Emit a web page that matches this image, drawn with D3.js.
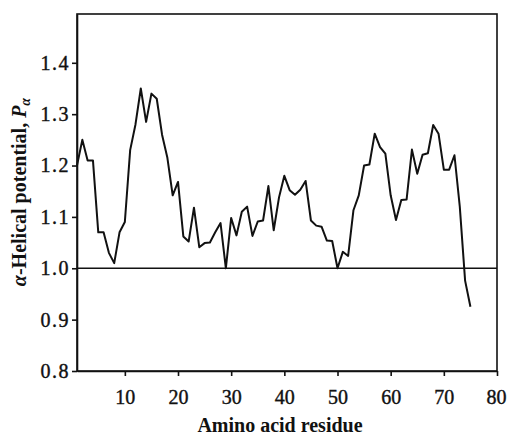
<!DOCTYPE html>
<html lang="en">
<head>
	<meta charset="UTF-8">
	<title>Helical potential</title>
	<script src="https://cdn.jsdelivr.net/npm/d3@7"></script>
	<style>
		body {
			margin: 0;
			background-color: #ffffff;
		}
		.axis path, .axis line {
			stroke: #111;
			stroke-width: 1.6px;
		}
		.axis text {
			font-family: 'Liberation Serif', 'Times New Roman', serif;
			font-size: 20px;
			fill: #111;
			stroke: #111;
			stroke-width: 0.4px;
		}
		.title {
			font-family: 'Liberation Serif', 'Times New Roman', serif;
			font-size: 20px;
			font-weight: bold;
			fill: #111;
		}
	</style>
</head>
<body>
<script>

	// alpha-helical potential per residue
	var residues = d3.range(1, 76);
	var potential = [
		1.20, 1.25, 1.21, 1.21, 1.07, 1.07, 1.03, 1.01, 1.07, 1.09,
		1.23, 1.28, 1.35, 1.285, 1.34, 1.33, 1.26, 1.215, 1.142, 1.168,
		1.062, 1.052, 1.118, 1.041, 1.049, 1.05, 1.07, 1.088, 1.00, 1.098,
		1.064, 1.11, 1.12, 1.063, 1.091, 1.093, 1.16, 1.074, 1.138, 1.18,
		1.152, 1.143, 1.153, 1.17, 1.093, 1.083, 1.081, 1.054, 1.053, 1.00,
		1.032, 1.024, 1.113, 1.142, 1.20, 1.202, 1.262, 1.236, 1.223, 1.142,
		1.094, 1.133, 1.134, 1.231, 1.184, 1.221, 1.224, 1.279, 1.262, 1.192,
		1.192, 1.22, 1.12, 0.976, 0.925
	];
	var xTicks = [10, 20, 30, 40, 50, 60, 70, 80];
	var yTicks = [0.8, 0.9, 1.0, 1.1, 1.2, 1.3, 1.4];
	var baseline = 1.0;

	var margin = {top: 14, bottom: 66, left: 77, right: 10};
	var width = 507 - margin.left - margin.right,
			height = 437 - margin.top - margin.bottom;

	var svg = d3.select('body').append('svg')
		.attr('width', width + margin.left + margin.right)
		.attr('height', height + margin.top + margin.bottom)
		.append('g')
		.attr('transform', 'translate(' + margin.left + ',' + margin.top + ')');

	var x = d3.scaleLinear()
		.domain([1, 80])
		.range([0, width]);

	var y = d3.scaleLinear()
		.domain([0.8, 1.495])
		.range([height, 0]);

	// box around the plot
	svg.append('rect')
		.attr('width', width)
		.attr('height', height)
		.style('fill', 'none')
		.style('stroke', '#111')
		.style('stroke-width', 1.6);

	svg.append('g')
		.attr('class', 'axis')
		.call(d3.axisLeft(y)
			.tickValues(yTicks)
			.tickFormat(d3.format('.1f'))
			.tickSize(5)
			.tickPadding(2)
			.tickSizeOuter(0))
		.selectAll('text')
		.style('letter-spacing', '1.5px');

	var xAxis = svg.append('g')
		.attr('class', 'axis')
		.attr('transform', 'translate(0,' + height + ')')
		.call(d3.axisBottom(x)
			.tickValues(xTicks)
			.tickSize(5)
			.tickPadding(14)
			.tickSizeOuter(0));

	// keep the last label inside the page
	xAxis.selectAll('text')
		.attr('dx', function(d) { return d === 80 ? -1 : 0; });

	svg.selectAll('.axis').style('font-family', null).style('font-size', null);

	// reference line at P = 1.0
	svg.append('line')
		.attr('x1', 0)
		.attr('x2', width)
		.attr('y1', y(baseline))
		.attr('y2', y(baseline))
		.style('stroke', '#111')
		.style('stroke-width', 1.6);

	var line = d3.line()
		.x(function(d, i) { return x(residues[i]); })
		.y(function(d) { return y(d); });

	svg.append('path')
		.datum(potential)
		.attr('d', line)
		.style('fill', 'none')
		.style('stroke', '#111')
		.style('stroke-width', 2)
		.style('stroke-linejoin', 'round');

	svg.append('text')
		.attr('class', 'title')
		.attr('x', 280 - margin.left)
		.attr('y', 432 - margin.top)
		.style('text-anchor', 'middle')
		.text('Amino acid residue');

	var ytitle = svg.append('text')
		.attr('class', 'title')
		.attr('transform', 'translate(' + (26 - margin.left) + ',' + (192 - margin.top) + ') rotate(-90)')
		.style('text-anchor', 'middle');
	ytitle.append('tspan').style('font-style', 'italic').text('\u03b1');
	ytitle.append('tspan').text('-Helical potential, ');
	ytitle.append('tspan').style('font-style', 'italic').text('P');
	ytitle.append('tspan')
		.style('font-style', 'italic')
		.style('font-size', '14px')
		.attr('dy', '4')
		.text('\u03b1');

</script>
</body>
</html>
